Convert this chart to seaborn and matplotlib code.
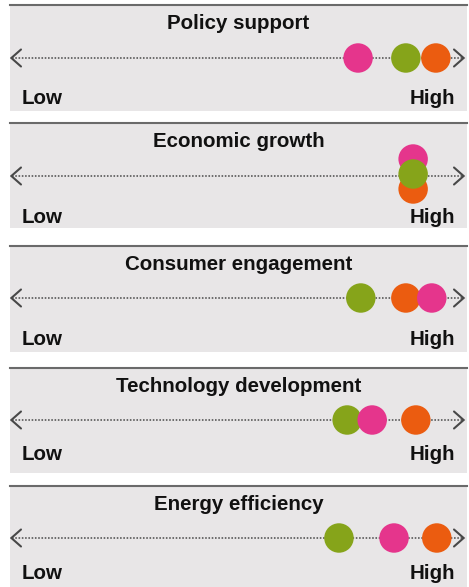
import pandas as pd
import seaborn as sns
import matplotlib.pyplot as plt

# scores on a 0 (Low) .. 100 (High) scale
categories = ['Policy support', 'Economic growth', 'Consumer engagement',
              'Technology development', 'Energy efficiency']
pink_scores = [76.5, 88.6, 92.7, 79.6, 84.4]
green_scores = [87.0, 88.6, 77.1, 74.1, 72.3]
orange_scores = [93.6, 88.6, 87.0, 89.2, 93.8]
# vertical nudge (px) used where dots sit on the same score
pink_nudge = [0, -17, 0, 0, 0]
green_nudge = [0, -2, 0, 0, 0]
orange_nudge = [0, 13, 0, 0, 0]

palette = {'pink': '#e5358c', 'green': '#86a41a', 'orange': '#eb5c10'}
series = [('green', green_scores, green_nudge),
          ('orange', orange_scores, orange_nudge),
          ('pink', pink_scores, pink_nudge)]

rows = []
for i, cat in enumerate(categories):
    for name, scores, nudge in series:
        rows.append({'category': cat, 'series': name,
                     'score': scores[i], 'nudge': nudge[i]})
df = pd.DataFrame(rows)

# panel layout in pixels: (top, bottom, line y, label baseline)
panels = [(5, 111, 53, 99), (123, 228, 53, 100), (246, 352, 52, 99),
          (368, 473, 52, 92), (486, 587, 52, 93)]

W, H = 469, 587
sns.set_theme(style='white')
plt.rcParams['font.family'] = ['Liberation Sans', 'DejaVu Sans']
fig = plt.figure(figsize=(W / 100, H / 100), dpi=100)
fig.patch.set_facecolor('white')

px = 4.55  # pixels per score unit
arm = 11 / px
line_col = '#505050'

for cat, (top, bot, ly, lb) in zip(categories, panels):
    h = bot - top
    ax = fig.add_axes([10 / W, 1 - bot / H, 457 / W, h / H])
    ax.set_facecolor('#e8e6e7')
    ax.set_xlim(0, 457 / px)
    ax.set_ylim(h, 0)

    ax.plot([0.4, 99.6], [ly, ly], color=line_col, lw=1.15,
            linestyle=(0, (1, 1.05)), zorder=1)
    ax.plot([arm, 0.3, arm], [ly - 8.5, ly, ly + 8.5], color='#484848', lw=1.5,
            solid_joinstyle='miter', zorder=1)
    ax.plot([100 - arm, 99.7, 100 - arm], [ly - 8.5, ly, ly + 8.5],
            color='#484848', lw=1.5, solid_joinstyle='miter', zorder=1)

    sub = df[df['category'] == cat].copy()
    sub['y'] = ly + sub['nudge']
    sub['order'] = sub['nudge'].abs()
    sub = sub.sort_values('order', ascending=False, kind='stable')
    sns.scatterplot(data=sub, x='score', y='y', hue='series', palette=palette,
                    s=450, linewidth=0, alpha=1, legend=False, ax=ax, zorder=3)

    ax.text(457 / px / 2, 24, cat, ha='center', va='baseline',
            fontsize=14.8, fontweight='bold', color='#111111')
    ax.text(2.5, lb, 'Low', ha='left', va='baseline',
            fontsize=14.8, fontweight='bold', color='#111111')
    ax.text(97.8, lb, 'High', ha='right', va='baseline',
            fontsize=14.8, fontweight='bold', color='#111111')

    ax.set_xlabel('')
    ax.set_ylabel('')
    ax.set_xticks([])
    ax.set_yticks([])
    for side in ['left', 'right', 'bottom']:
        ax.spines[side].set_visible(False)
    ax.spines['top'].set_color('#6a6a6a')
    ax.spines['top'].set_linewidth(1.5)

fig.savefig('out.png', dpi=100)
